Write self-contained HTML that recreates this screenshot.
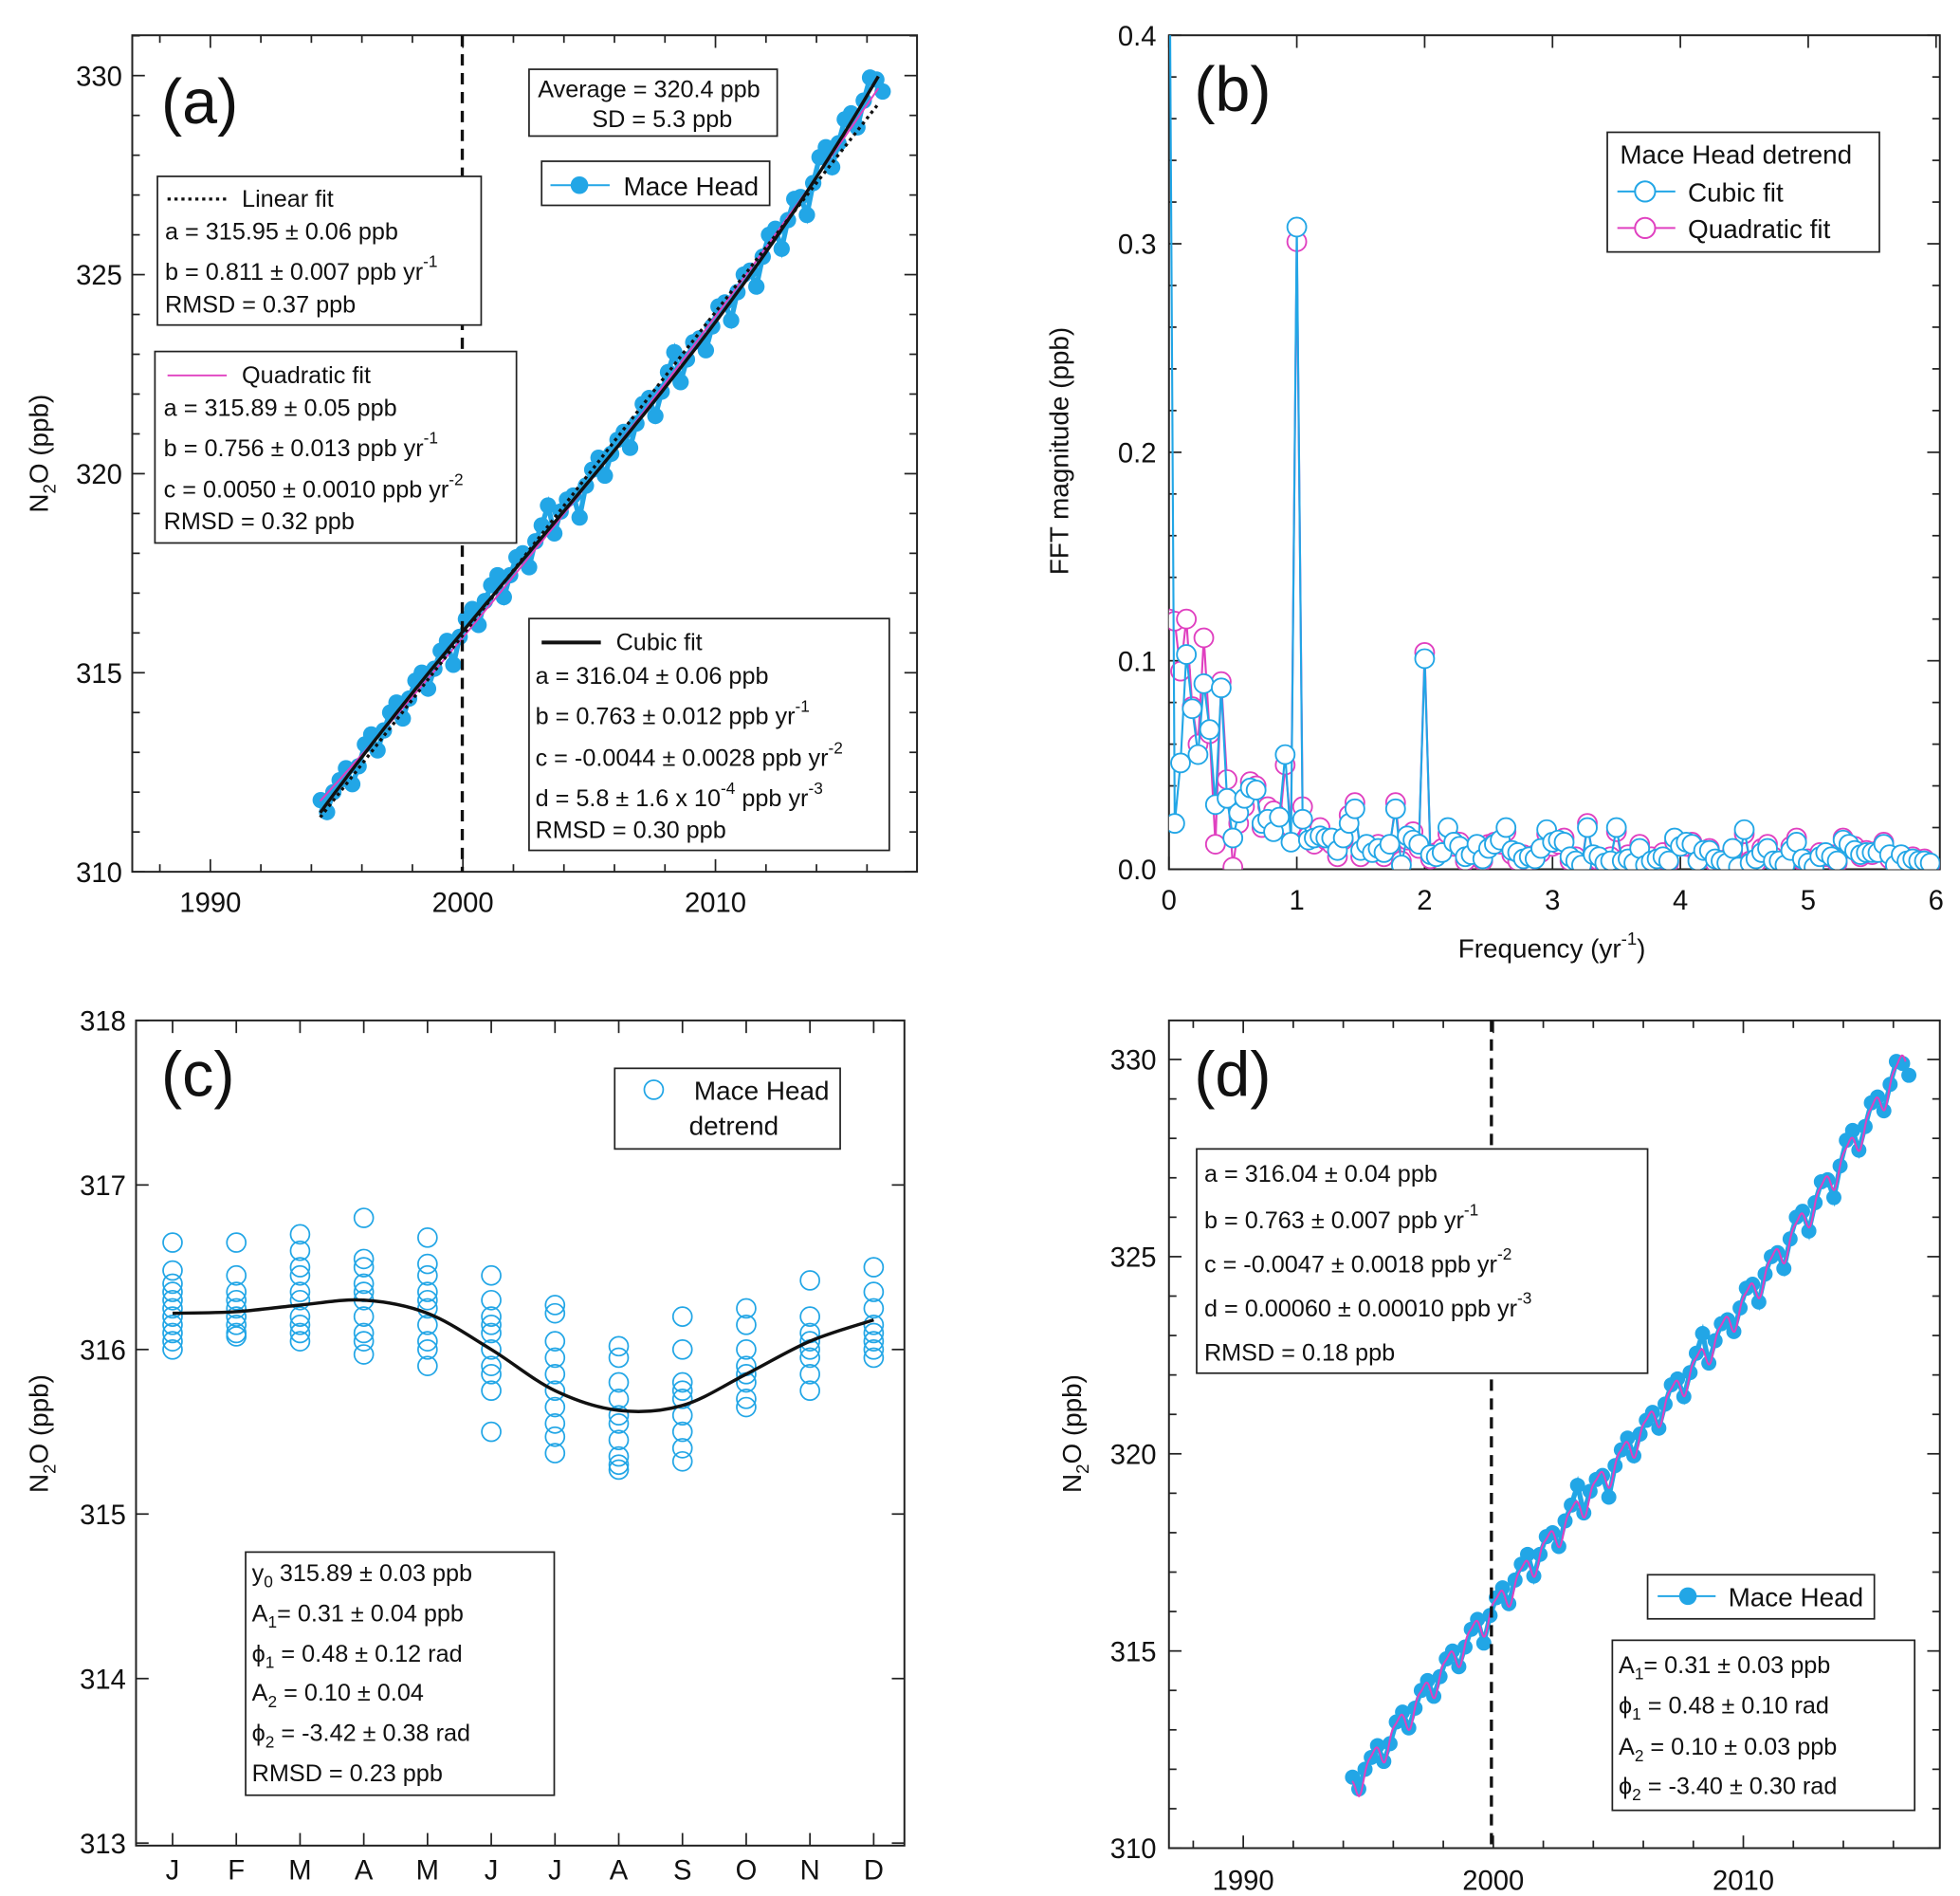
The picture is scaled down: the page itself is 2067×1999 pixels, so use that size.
<!DOCTYPE html>
<html><head><meta charset="utf-8"><style>
html,body{margin:0;padding:0;background:#fff}
svg{display:block}
text{font-family:"Liberation Sans",sans-serif;fill:#111}
.t{font-size:19px}.tk{font-size:22px}.lab{font-size:50px}
</style></head><body>
<svg id="fig" width="2067" height="1999" viewBox="0 0 1556 1505" preserveAspectRatio="none" xmlns="http://www.w3.org/2000/svg">
<defs><clipPath id="clipB"><rect x="928" y="28" width="612" height="662"/></clipPath></defs>
<rect x="0" y="0" width="1556" height="1505" fill="#fff"/>

<!-- Panel a -->
<g>
<rect x="105" y="28" width="623" height="664" fill="none" stroke="#222" stroke-width="1.5"/>
<g id="ga"></g>
<line x1="367" y1="28" x2="367" y2="692" stroke="#111" stroke-width="2.5" stroke-dasharray="9,6"/>
<text class="lab" x="128" y="98">(a)</text>
<text font-size="21" transform="translate(38,360) rotate(-90)" text-anchor="middle">N<tspan font-size="14" dy="6">2</tspan><tspan dy="-6">O (ppb)</tspan></text>
<g><rect x="420" y="55" width="197" height="53" fill="#fff" stroke="#222" stroke-width="1.3"/>
<text class="t" x="427" y="77">Average = 320.4 ppb</text><text class="t" x="470" y="101">SD = 5.3 ppb</text></g>
<g><rect x="430" y="128" width="181" height="35" fill="#fff" stroke="#222" stroke-width="1.3"/>
<line x1="437" y1="147" x2="484" y2="147" stroke="#22a6e6" stroke-width="1.5"/><circle cx="460" cy="147" r="7" fill="#22a6e6"/>
<text font-size="21" x="495" y="155">Mace Head</text></g>
<g><rect x="125" y="140" width="257" height="118" fill="#fff" stroke="#222" stroke-width="1.3"/>
<line x1="133" y1="158" x2="180" y2="158" stroke="#111" stroke-width="2.5" stroke-dasharray="2.5,3"/>
<text class="t" x="192" y="164">Linear fit</text>
<text class="t" x="131" y="190">a = 315.95 ± 0.06 ppb</text>
<text class="t" x="131" y="222">b = 0.811 ± 0.007 ppb yr<tspan font-size="13" dy="-10">-1</tspan></text>
<text class="t" x="131" y="248">RMSD = 0.37 ppb</text></g>
<g><rect x="123" y="279" width="287" height="152" fill="#fff" stroke="#222" stroke-width="1.3"/>
<line x1="133" y1="298" x2="180" y2="298" stroke="#e040c0" stroke-width="1.5"/>
<text class="t" x="192" y="304">Quadratic fit</text>
<text class="t" x="130" y="330">a = 315.89 ± 0.05 ppb</text>
<text class="t" x="130" y="362">b = 0.756 ± 0.013 ppb yr<tspan font-size="13" dy="-10">-1</tspan></text>
<text class="t" x="130" y="395">c = 0.0050 ± 0.0010 ppb yr<tspan font-size="13" dy="-10">-2</tspan></text>
<text class="t" x="130" y="420">RMSD = 0.32 ppb</text></g>
<g><rect x="420" y="491" width="286" height="184" fill="#fff" stroke="#222" stroke-width="1.3"/>
<line x1="430" y1="510" x2="477" y2="510" stroke="#111" stroke-width="3"/>
<text class="t" x="489" y="516">Cubic fit</text>
<text class="t" x="425" y="543">a = 316.04 ± 0.06 ppb</text>
<text class="t" x="425" y="575">b = 0.763 ± 0.012 ppb yr<tspan font-size="13" dy="-10">-1</tspan></text>
<text class="t" x="425" y="608">c = -0.0044 ± 0.0028 ppb yr<tspan font-size="13" dy="-10">-2</tspan></text>
<text class="t" x="425" y="640">d = 5.8 ± 1.6 x 10<tspan font-size="13" dy="-10">-4</tspan><tspan dy="10"> ppb yr</tspan><tspan font-size="13" dy="-10">-3</tspan></text>
<text class="t" x="425" y="665">RMSD = 0.30 ppb</text></g>
</g>

<!-- Panel b -->
<g>
<rect x="928" y="28" width="612" height="662" fill="none" stroke="#222" stroke-width="1.5"/>
<g id="gb"></g>
<text class="lab" x="948" y="88">(b)</text>
<text font-size="21" x="1232" y="760" text-anchor="middle">Frequency (yr<tspan font-size="14" dy="-10">-1</tspan><tspan dy="10">)</tspan></text>
<text font-size="21" transform="translate(848,358) rotate(-90)" text-anchor="middle">FFT magnitude (ppb)</text>
<g><rect x="1276" y="105" width="216" height="95" fill="#fff" stroke="#222" stroke-width="1.3"/>
<text font-size="21" x="1286" y="130">Mace Head detrend</text>
<line x1="1284" y1="152" x2="1330" y2="152" stroke="#22a6e6" stroke-width="1.5"/><circle cx="1306" cy="152" r="8" fill="#fff" stroke="#22a6e6" stroke-width="1.5"/>
<text font-size="21" x="1340" y="160">Cubic fit</text>
<line x1="1284" y1="181" x2="1330" y2="181" stroke="#e040c0" stroke-width="1.5"/><circle cx="1306" cy="181" r="8" fill="#fff" stroke="#e040c0" stroke-width="1.5"/>
<text font-size="21" x="1340" y="189">Quadratic fit</text></g>
</g>

<!-- Panel c -->
<g>
<rect x="108" y="810" width="610" height="655" fill="none" stroke="#222" stroke-width="1.5"/>
<g id="gc"></g>
<text class="lab" x="128" y="870">(c)</text>
<text font-size="21" transform="translate(38,1138) rotate(-90)" text-anchor="middle">N<tspan font-size="14" dy="6">2</tspan><tspan dy="-6">O (ppb)</tspan></text>
<g><rect x="488" y="848" width="179" height="64" fill="#fff" stroke="#222" stroke-width="1.3"/>
<circle cx="519" cy="865" r="7.5" fill="none" stroke="#22a6e6" stroke-width="1.3"/>
<text font-size="21" x="551" y="873">Mace Head</text><text font-size="21" x="547" y="901">detrend</text></g>
<g><rect x="195" y="1232" width="245" height="193" fill="#fff" stroke="#222" stroke-width="1.3"/>
<text class="t" x="200" y="1255">y<tspan font-size="13" dy="5">0</tspan><tspan dy="-5"> 315.89 ± 0.03 ppb</tspan></text>
<text class="t" x="200" y="1287">A<tspan font-size="13" dy="5">1</tspan><tspan dy="-5">= 0.31 ± 0.04 ppb</tspan></text>
<text class="t" x="200" y="1319">ϕ<tspan font-size="13" dy="5">1</tspan><tspan dy="-5"> = 0.48 ± 0.12 rad</tspan></text>
<text class="t" x="200" y="1350">A<tspan font-size="13" dy="5">2</tspan><tspan dy="-5"> = 0.10 ± 0.04</tspan></text>
<text class="t" x="200" y="1382">ϕ<tspan font-size="13" dy="5">2</tspan><tspan dy="-5"> = -3.42 ± 0.38 rad</tspan></text>
<text class="t" x="200" y="1414">RMSD = 0.23 ppb</text></g>
</g>

<!-- Panel d -->
<g>
<rect x="928" y="810" width="612" height="657" fill="none" stroke="#222" stroke-width="1.5"/>
<g id="gd"></g>
<line x1="1184" y1="810" x2="1184" y2="1467" stroke="#111" stroke-width="2.5" stroke-dasharray="9,6"/>
<text class="lab" x="948" y="870">(d)</text>
<text font-size="21" transform="translate(858,1138) rotate(-90)" text-anchor="middle">N<tspan font-size="14" dy="6">2</tspan><tspan dy="-6">O (ppb)</tspan></text>
<g><rect x="950" y="912" width="358" height="178" fill="#fff" stroke="#222" stroke-width="1.3"/>
<text class="t" x="956" y="938">a = 316.04 ± 0.04 ppb</text>
<text class="t" x="956" y="975">b = 0.763 ± 0.007 ppb yr<tspan font-size="13" dy="-10">-1</tspan></text>
<text class="t" x="956" y="1010">c = -0.0047 ± 0.0018 ppb yr<tspan font-size="13" dy="-10">-2</tspan></text>
<text class="t" x="956" y="1045">d = 0.00060 ± 0.00010 ppb yr<tspan font-size="13" dy="-10">-3</tspan></text>
<text class="t" x="956" y="1080">RMSD = 0.18 ppb</text></g>
<g><rect x="1308" y="1250" width="180" height="35" fill="#fff" stroke="#222" stroke-width="1.3"/>
<line x1="1316" y1="1267" x2="1362" y2="1267" stroke="#22a6e6" stroke-width="1.5"/><circle cx="1340" cy="1267" r="7" fill="#22a6e6"/>
<text font-size="21" x="1372" y="1275">Mace Head</text></g>
<g><rect x="1280" y="1302" width="240" height="135" fill="#fff" stroke="#222" stroke-width="1.3"/>
<text class="t" x="1285" y="1328">A<tspan font-size="13" dy="5">1</tspan><tspan dy="-5">= 0.31 ± 0.03 ppb</tspan></text>
<text class="t" x="1285" y="1360">ϕ<tspan font-size="13" dy="5">1</tspan><tspan dy="-5"> = 0.48 ± 0.10 rad</tspan></text>
<text class="t" x="1285" y="1393">A<tspan font-size="13" dy="5">2</tspan><tspan dy="-5"> = 0.10 ± 0.03 ppb</tspan></text>
<text class="t" x="1285" y="1424">ϕ<tspan font-size="13" dy="5">2</tspan><tspan dy="-5"> = -3.40 ± 0.30 rad</tspan></text></g>
</g>
</svg>
<script>
// ---- data ----
const maceStartYear = 1994.37;
const maceStep = 0.25;
const maceValues = [311.8,311.5,312.0,312.3,312.6,312.2,312.65,313.2,313.45,313.05,313.55,314.0,314.25,313.85,314.35,314.8,315.0,314.6,315.1,315.55,315.8,315.2,315.9,316.35,316.6,316.2,316.8,317.2,317.45,316.9,317.45,317.9,318.0,317.65,318.3,318.7,319.2,318.5,319.05,319.35,319.45,318.9,319.7,320.1,320.4,319.95,320.5,320.85,321.05,320.65,321.26,321.75,321.9,321.45,322.06,322.55,323.05,322.3,322.87,323.3,323.4,323.1,323.7,324.2,324.3,323.85,324.56,325.0,325.1,324.7,325.45,326.0,326.15,325.65,326.37,326.9,326.95,326.5,327.3,327.95,328.2,327.7,328.3,328.9,329.05,328.7,329.37,329.95,329.9,329.6];
const linearCoef = [315.95, 0.811];
const quadCoef = [315.89, 0.756, 0.0050];
const cubicCoef = [316.04, 0.763, -0.0044, 0.00058];
const cubicCoefD = [316.04, 0.763, -0.0047, 0.00060];
const harmD = [0.31, 0.48, 0.10, -3.40];

const fftStep = 1/22;
const fftCubic = [0.5,0.022,0.051,0.103,0.077,0.055,0.089,0.067,0.031,0.087,0.034,0.015,0.027,0.034,0.039,0.038,0.022,0.024,0.018,0.025,0.055,0.013,0.308,0.024,0.014,0.015,0.016,0.015,0.015,0.009,0.015,0.022,0.029,0.009,0.012,0.008,0.010,0.008,0.012,0.029,0.002,0.016,0.014,0.012,0.101,0.007,0.006,0.008,0.020,0.013,0.011,0.006,0.007,0.012,0.005,0.010,0.012,0.014,0.020,0.009,0.008,0.005,0.006,0.005,0.010,0.019,0.013,0.014,0.013,0.006,0.004,0.002,0.020,0.007,0.006,0.003,0.004,0.020,0.004,0.005,0.003,0.010,0.002,0.004,0.005,0.006,0.004,0.015,0.011,0.013,0.012,0.004,0.009,0.009,0.005,0.004,0.003,0.010,0.001,0.019,0.003,0.005,0.008,0.010,0.004,0.004,0.002,0.009,0.013,0.005,0.003,0.001,0.006,0.008,0.006,0.004,0.014,0.012,0.009,0.007,0.008,0.008,0.008,0.012,0.007,0.002,0.007,0.004,0.005,0.004,0.004,0.003];
const fftQuad = [0.120,0.119,0.095,0.120,0.078,0.060,0.111,0.065,0.012,0.090,0.043,0.001,0.022,0.030,0.042,0.040,0.020,0.030,0.028,0.020,0.050,0.020,0.301,0.030,0.016,0.012,0.020,0.014,0.012,0.006,0.014,0.026,0.032,0.006,0.010,0.010,0.012,0.006,0.010,0.032,0.004,0.014,0.018,0.010,0.104,0.005,0.008,0.010,0.017,0.011,0.013,0.004,0.009,0.010,0.004,0.012,0.013,0.012,0.018,0.007,0.004,0.007,0.004,0.007,0.008,0.017,0.011,0.012,0.015,0.004,0.006,0.001,0.022,0.005,0.004,0.002,0.006,0.018,0.003,0.007,0.002,0.012,0.003,0.006,0.004,0.008,0.003,0.013,0.013,0.011,0.013,0.006,0.007,0.010,0.003,0.003,0.005,0.008,0.002,0.017,0.004,0.003,0.010,0.012,0.006,0.002,0.003,0.011,0.015,0.004,0.005,0.002,0.008,0.006,0.007,0.003,0.015,0.010,0.011,0.006,0.009,0.007,0.009,0.013,0.005,0.003,0.006,0.005,0.006,0.003,0.005,0.002];

const monthLabels = ['J','F','M','A','M','J','J','A','S','O','N','D'];
const monthData = [
 [316.65,316.48,316.35,316.3,316.25,316.2,316.15,316.1,316.05,316.0,316.4],
 [316.65,316.45,316.35,316.3,316.25,316.2,316.15,316.1,316.08],
 [316.7,316.6,316.45,316.35,316.3,316.2,316.15,316.1,316.05,316.5],
 [316.8,316.55,316.5,316.4,316.35,316.3,316.2,316.1,316.05,315.97],
 [316.68,316.52,316.45,316.35,316.3,316.25,316.15,316.05,316.0,315.9],
 [316.45,316.3,316.2,316.1,316.0,315.9,315.85,315.75,315.5,316.15],
 [316.27,316.22,316.05,315.95,315.85,315.75,315.65,315.55,315.47,315.37],
 [316.02,315.95,315.8,315.7,315.6,315.55,315.45,315.35,315.3,315.27],
 [316.2,316.0,315.8,315.75,315.7,315.6,315.5,315.4,315.32],
 [316.25,316.15,316.0,315.9,315.85,315.8,315.7,315.65],
 [316.42,316.2,316.1,316.05,316.0,315.95,315.85,315.75],
 [316.5,316.35,316.25,316.15,316.1,316.05,316.0,315.95]
];
const seasonalFit = [316.22,316.23,316.27,316.30,316.22,316.0,315.75,315.63,315.66,315.85,316.05,316.18];

const yTicksA = [310,315,320,325,330];
const xTicksA = [1990,2000,2010];
const yTicksB = ['0.0','0.1','0.2','0.3','0.4'];
const xTicksB = [0,1,2,3,4,5,6];
const yTicksC = [313,314,315,316,317,318];

// ---- axes ----
const xa = y => 167 + (y-1990)*20.05, ya = v => 692 - (v-310)*31.6;
const xb = f => 928 + f*101.5, yb = v => 690 - v*1655;
const xc = i => 137 + i*50.6, yc = v => 1463 - (v-313)*130.6;
const xd = y => 987 + (y-1990)*19.85, yd = v => 1467 - (v-310)*31.3;
const NS = 'http://www.w3.org/2000/svg';
function mk(tag, parent, attrs){ const e = document.createElementNS(NS, tag); for (const k in attrs) e.setAttribute(k, attrs[k]); parent.appendChild(e); return e; }
const poly = (c, t) => { let s = 0; for (let i=0;i<c.length;i++) s += c[i]*Math.pow(t,i); return s; };

function frameTicks(g, x0, x1, y0, y1, xs, ys, major, name){
  xs.forEach(p => { const L = p[1]?10:6;
    let e = mk('line', g, {x1:p[0],x2:p[0],y1:y1,y2:y1-L,stroke:'#222','stroke-width':1.3});
    
    
    e = mk('line', g, {x1:p[0],x2:p[0],y1:y0,y2:y0+L,stroke:'#222','stroke-width':1.3});
    
    
  });
  ys.forEach(p => { const L = p[1]?10:6;
    let e = mk('line', g, {x1:x0,x2:x0+L,y1:p[0],y2:p[0],stroke:'#222','stroke-width':1.3});
    
    
    e = mk('line', g, {x1:x1,x2:x1-L,y1:p[0],y2:p[0],stroke:'#222','stroke-width':1.3});
    
    
  });
}
function label(g, x, y, txt, anchor, name){
  const e = mk('text', g, {x:x,y:y,'text-anchor':anchor,'font-size':22});
  e.textContent = txt;
  
  
}

// ---- Panel a ----
(function(){
  const g = document.getElementById('ga');
  const xs=[], ys=[];
  for (let y=1988;y<=2018;y+=2) if (xa(y)>105 && xa(y)<728) xs.push([xa(y), y%10===0]);
  for (let v=310;v<=331;v++) ys.push([ya(v), v%5===0]);
  frameTicks(g,105,728,28,692,xs,ys,true,'axis-a');
  yTicksA.forEach(v => label(g,97,ya(v)+8,String(v),'end','y-tick-label-a'));
  xTicksA.forEach(v => label(g,xa(v),724,String(v),'middle','x-tick-label-a'));
  const ln = mk('polyline', g, {points: maceValues.map((v,i)=>xa(maceStartYear+i*maceStep).toFixed(1)+','+ya(v).toFixed(1)).join(' '), fill:'none', stroke:'#22a6e6', 'stroke-width':4});
  
  
  maceValues.forEach((v,i) => { const c = mk('circle', g, {cx:xa(maceStartYear+i*maceStep), cy:ya(v), r:6.5, fill:'#22a6e6'});
    
     });
  const fits = [[quadCoef,'#e040c0',1.5,null,'quadratic-fit-line'],[linearCoef,'#111',2.5,'2.5,3','linear-fit-line'],[cubicCoef,'#111',2.6,null,'cubic-fit-line']];
  fits.forEach(f => { let d='';
    for (let t=-5.65;t<=16.5;t+=0.1) d += (d?'L':'M')+xa(2000+t).toFixed(1)+','+ya(poly(f[0],t)).toFixed(1);
    const p = mk('path', g, {d:d, fill:'none', stroke:f[1], 'stroke-width':f[2]});
    if (f[3]) p.setAttribute('stroke-dasharray', f[3]);
    
     });
})();

// ---- Panel b ----
(function(){
  const g = document.getElementById('gb');
  const xs=[], ys=[];
  xTicksB.forEach(f => xs.push([xb(f), true]));
  for (let i=0;i<=20;i++) ys.push([yb(i*0.02), i%5===0]);
  frameTicks(g,928,1540,28,690,xs,ys,true,'axis-b');
  yTicksB.forEach(v => label(g,918,yb(parseFloat(v))+8,v,'end','y-tick-label-b'));
  xTicksB.forEach(v => label(g,xb(v),722,String(v),'middle','x-tick-label-b'));
  const cg = mk('g', g, {'clip-path':'url(#clipB)'});
  [[fftQuad,'#e040c0','quadratic-fit'],[fftCubic,'#22a6e6','cubic-fit']].forEach(s => {
    const pts = s[0].map((v,i) => [xb(i*fftStep), yb(v)]).filter(p => p[0] <= xb(6)+1);
    const pl = mk('polyline', cg, {points: pts.map(p=>p[0].toFixed(1)+','+p[1].toFixed(1)).join(' '), fill:'none', stroke:s[1], 'stroke-width':1.6});
    
    
    pts.forEach(p => { const c = mk('circle', cg, {cx:p[0], cy:p[1], r:7.5, fill:'#fff', stroke:s[1], 'stroke-width':1.4});
      
       });
  });
})();

// ---- Panel c ----
(function(){
  const g = document.getElementById('gc');
  const xs=[], ys=[];
  monthLabels.forEach((m,i) => xs.push([xc(i), true]));
  yTicksC.forEach(v => ys.push([yc(v), true]));
  frameTicks(g,108,718,810,1465,xs,ys,true,'axis-c');
  yTicksC.forEach(v => label(g,100,yc(v)+8,String(v),'end','y-tick-label-c'));
  monthLabels.forEach((m,i) => label(g,xc(i),1492,m,'middle','month-label'));
  monthData.forEach((arr,i) => arr.forEach(v => { const c = mk('circle', g, {cx:xc(i), cy:yc(v), r:7.5, fill:'none', stroke:'#22a6e6', 'stroke-width':1.3});
    
     }));
  const P = seasonalFit.map((v,i) => [xc(i), yc(v)]);
  let d = 'M'+P[0][0]+','+P[0][1];
  for (let i=0;i<P.length-1;i++){ const p0=P[Math.max(i-1,0)], p1=P[i], p2=P[i+1], p3=P[Math.min(i+2,P.length-1)];
    d += 'C'+(p1[0]+(p2[0]-p0[0])/6)+','+(p1[1]+(p2[1]-p0[1])/6)+' '+(p2[0]-(p3[0]-p1[0])/6)+','+(p2[1]-(p3[1]-p1[1])/6)+' '+p2[0]+','+p2[1]; }
  const p = mk('path', g, {d:d, fill:'none', stroke:'#111', 'stroke-width':2.6});
  
  
})();

// ---- Panel d ----
(function(){
  const g = document.getElementById('gd');
  const xs=[], ys=[];
  for (let y=1988;y<=2018;y+=2) if (xd(y)>928 && xd(y)<1540) xs.push([xd(y), y%10===0]);
  for (let v=310;v<=331;v++) if (yd(v)>=810) ys.push([yd(v), v%5===0]);
  frameTicks(g,928,1540,810,1467,xs,ys,true,'axis-d');
  yTicksA.forEach(v => label(g,918,yd(v)+8,String(v),'end','y-tick-label-d'));
  xTicksA.forEach(v => label(g,xd(v),1500,String(v),'middle','x-tick-label-d'));
  const ln = mk('polyline', g, {points: maceValues.map((v,i)=>xd(maceStartYear+i*maceStep).toFixed(1)+','+yd(v).toFixed(1)).join(' '), fill:'none', stroke:'#22a6e6', 'stroke-width':4});
  
  
  maceValues.forEach((v,i) => { const c = mk('circle', g, {cx:xd(maceStartYear+i*maceStep), cy:yd(v), r:6, fill:'#22a6e6'});
    
     });
  let d='';
  for (let t=-5.65;t<=16.5;t+=0.02){ const v = poly(cubicCoefD,t) + harmD[0]*Math.sin(2*Math.PI*t+harmD[1]) + harmD[2]*Math.sin(4*Math.PI*t+harmD[3]);
    d += (d?'L':'M')+xd(2000+t).toFixed(1)+','+yd(v).toFixed(1); }
  const p = mk('path', g, {d:d, fill:'none', stroke:'#e040c0', 'stroke-width':1.5});
  
  
})();
</script>
</body></html>
